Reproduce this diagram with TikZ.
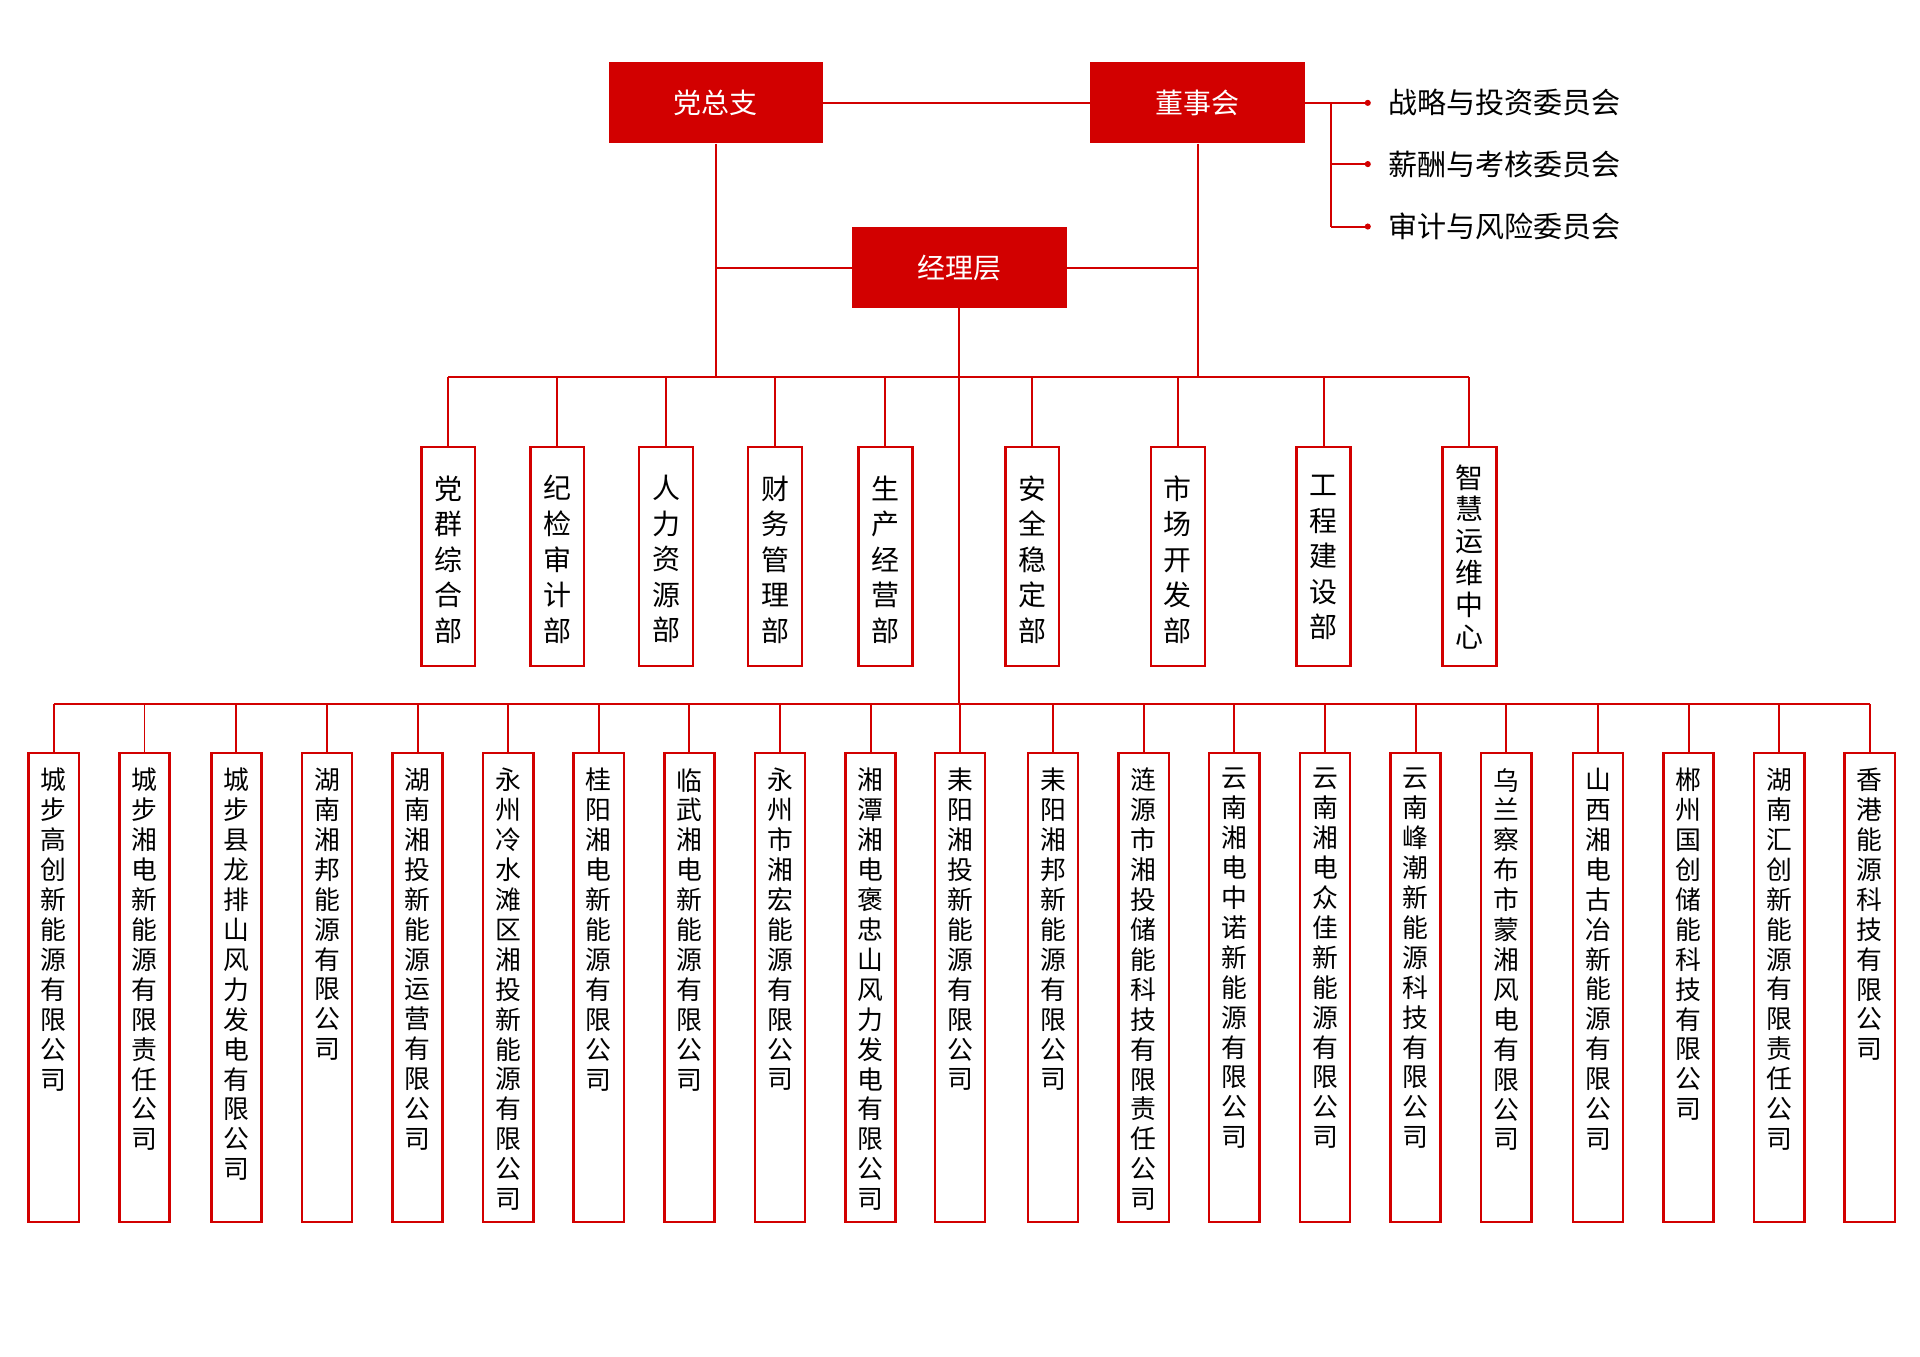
\documentclass[tikz,border=0pt]{standalone}
\usepackage{fontspec}
\setmainfont{Noto Sans CJK SC}
\usepackage{tikz}
\definecolor{hred}{RGB}{210,0,0}
\newcommand\vstack[1]{\vstackA#1\relax}
\def\vstackA#1{\ifx\relax#1\else#1\\\expandafter\vstackA\fi}
\tikzset{
  topbox/.style={fill=hred,text=white,minimum width=3.5cm,minimum height=1.32cm,font=\fontsize{13}{15}\selectfont},
  deptbox/.style={draw=hred,line width=1.2pt,minimum width=0.88cm,minimum height=3.58cm,anchor=north},
  combox/.style={draw=hred,line width=1.2pt,minimum width=0.82cm,minimum height=7.66cm,anchor=north},
  vtxt/.style={anchor=north,align=center,inner sep=0pt},
  link/.style={hred,line width=0.9pt}
}
\begin{document}
\begin{tikzpicture}
  \useasboundingbox (0,0) rectangle (31.36,-22.16);
  % top level
  \node[topbox] (party) at (11.69,-1.68) {党总支};
  \node[topbox] (board) at (19.56,-1.68) {董事会};
  \node[topbox] (mgr) at (15.67,-4.37) {经理层};
  \draw[link] (party) -- (board);
  % committees
  \coordinate (cj) at (21.74,-1.68);
  \draw[link] (board.east) -- (cj) -- (21.74,-3.70);
  \foreach \t/\y [count=\i] in {战略与投资委员会/-1.68,薪酬与考核委员会/-2.68,审计与风险委员会/-3.70}{
    \coordinate (cm\i) at (22.34,\y);
    \draw[link] (21.74,\y) -- (cm\i);
    \fill[hred] (cm\i) circle (0.05);
    \node[anchor=west,font=\fontsize{13.5}{15}\selectfont] (ct\i) at (22.55,\y) {\t};
  }
  % buses
  \coordinate (busA) at (0,-6.16);
  \coordinate (busB) at (0,-11.50);
  \draw[link] (party.south) -- (party.south |- busA);
  \draw[link] (board.south) -- (board.south |- busA);
  \draw[link] (party.south |- mgr.west) -- (mgr.west);
  \draw[link] (mgr.east) -- (board.south |- mgr.east);
  \draw[link] (mgr.south) -- (mgr.south |- busB);
  \draw[link] (7.32,-6.16) -- (24.0,-6.16);
  \draw[link] (0.88,-11.50) -- (30.54,-11.50);
  % departments
  \foreach \x/\t [count=\i] in {7.32/党群综合部,9.10/纪检审计部,10.88/人力资源部,12.66/财务管理部,14.46/生产经营部,16.86/安全稳定部,19.24/市场开发部,21.62/工程建设部}{
    \node[deptbox] (d\i) at (\x,-7.28) {};
    \draw[link] (d\i.north) -- (d\i.north |- busA);
    \node[vtxt,font=\fontsize{13}{16.5}\selectfont] at ([yshift=-0.48cm]d\i.north) {\expandafter\vstack\expandafter{\t}};
  }
  \node[deptbox] (d9) at (24.0,-7.28) {};
  \draw[link] (d9.north) -- (d9.north |- busA);
  \node[vtxt,font=\fontsize{13}{14.8}\selectfont] at ([yshift=-0.30cm]d9.north) {\vstack{智慧运维中心}};
  % companies
  \foreach \x/\t [count=\i] in {0.88/城步高创新能源有限公司,2.36/城步湘电新能源有限责任公司,3.86/城步县龙排山风力发电有限公司,5.34/湖南湘邦能源有限公司,6.82/湖南湘投新能源运营有限公司,8.30/永州冷水滩区湘投新能源有限公司,9.78/桂阳湘电新能源有限公司,11.26/临武湘电新能源有限公司,12.74/永州市湘宏能源有限公司,14.22/湘潭湘电褒忠山风力发电有限公司,15.68/耒阳湘投新能源有限公司,17.20/耒阳湘邦新能源有限公司,18.68/涟源市湘投储能科技有限责任公司,20.16/云南湘电中诺新能源有限公司,21.64/云南湘电众佳新能源有限公司,23.12/云南峰潮新能源科技有限公司,24.60/乌兰察布市蒙湘风电有限公司,26.10/山西湘电古冶新能源有限公司,27.58/郴州国创储能科技有限公司,29.06/湖南汇创新能源有限责任公司,30.54/香港能源科技有限公司}{
    \node[combox] (c\i) at (\x,-12.28) {};
    \draw[link] (c\i.north) -- (c\i.north |- busB);
    \node[vtxt,font=\fontsize{12}{13.9}\selectfont] at ([yshift=-0.26cm]c\i.north) {\expandafter\vstack\expandafter{\t}};
  }
\end{tikzpicture}
\end{document}
